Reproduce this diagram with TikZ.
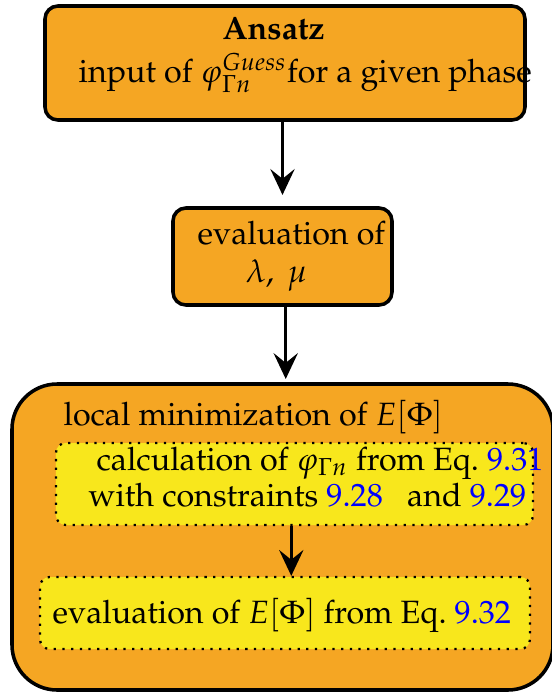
\documentclass[tikz,border=0pt]{standalone}
\usepackage[T1]{fontenc}
\usepackage{mathpazo}
\usepackage{tikz}
\usetikzlibrary{arrows.meta,positioning,fit}
\usepackage{xcolor}
\definecolor{boxorange}{HTML}{F5A623}
\definecolor{boxyellow}{HTML}{F8E71C}
\definecolor{linkblue}{RGB}{0,0,255}
\newcommand{\eqnum}[1]{\textcolor{linkblue}{#1}}

\begin{document}
\begin{tikzpicture}[x=0.0109cm,y=-0.0109cm,
  stepbox/.style={draw=black,line width=1.1pt,fill=boxorange,rounded corners=4pt,inner sep=0pt},
  bigbox/.style={stepbox,rounded corners=14pt},
  subbox/.style={draw=black,dotted,line width=0.7pt,fill=boxyellow,rounded corners=3pt,inner sep=0pt},
  txt/.style={anchor=base west,inner sep=0pt},
  arr/.style={-{Stealth[length=8pt,width=7.5pt,inset=3pt]},line width=1pt}]
  \useasboundingbox (0,0) rectangle (552,693);
  % the three steps, top to bottom
  \node[stepbox,fit={(45,6) (525,120)}] (ansatz) {};
  \node[stepbox,fit={(173,208) (392,305)}] (evalbox) {};
  \node[bigbox,fit={(12,384) (553,690)}] (minbox) {};
  % inner steps of the minimization
  \node[subbox,fit={(56,443) (533,525)}] (calcbox) {};
  \node[subbox,fit={(40,577) (530,649)}] (energybox) {};
  % texts
  \node[txt,font=\bfseries] (ansatztitle) at (222,39) {Ansatz};
  \node[txt] (ansatzinput) at (78,82) {input of $\varphi_{\Gamma n}^{Guess}$for a given phase};
  \node[txt] (evaltext) at (197,244) {evaluation of};
  \node[txt] (evalvars) at (245,282) {$\lambda,\ \mu$};
  \node[txt] (mintitle) at (63,425) {local minimization of $E[\Phi]$};
  \node[txt] (calcline1) at (96,470) {calculation of $\varphi_{\Gamma n}$ from Eq.\ \eqnum{9.31}};
  \node[txt] (calcline2) at (88,506) {with constraints \eqnum{9.28}\ \ \ and \eqnum{9.29}};
  \node[txt] (energytext) at (52,623) {evaluation of $E[\Phi]$ from Eq.\ \eqnum{9.32}};
  % arrows
  \draw[arr,shorten >=3.5pt] (ansatz.south -| evalbox.north) -- (evalbox.north);
  \draw[arr,shorten >=1pt] ([xshift=1pt]evalbox.south) -- ([xshift=1pt]evalbox.south |- minbox.north);
  \draw[arr] ([xshift=-1pt]calcbox.south) -- ([xshift=-1pt]calcbox.south |- energybox.north);
\end{tikzpicture}
\end{document}
